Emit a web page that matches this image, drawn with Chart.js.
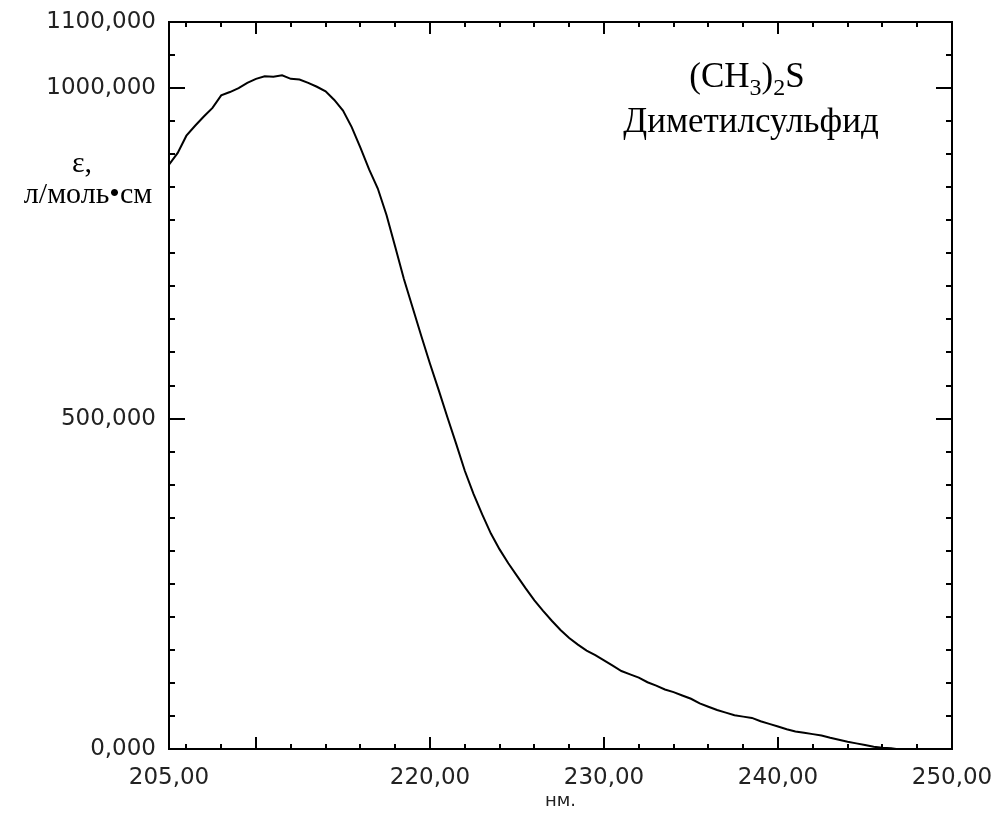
<!DOCTYPE html>
<html>
<head>
<meta charset="utf-8">
<script src="https://cdn.jsdelivr.net/npm/chart.js@4/dist/chart.umd.min.js"></script>
<style>
html,body{margin:0;padding:0;background:#fff;}
canvas{display:block;}
</style>
</head>
<body>
<canvas id="c" width="998" height="817"></canvas>
<script>
// ---- data ----
const wavelengths = [
  205.0,205.5,206.0,206.5,207.0,207.5,208.0,208.5,209.0,209.5,
  210.0,210.5,211.0,211.5,212.0,212.5,213.0,213.5,214.0,214.5,
  215.0,215.5,216.0,216.5,217.0,217.5,218.0,218.5,219.0,219.5,
  220.0,220.5,221.0,221.5,222.0,222.5,223.0,223.5,224.0,224.5,
  225.0,225.5,226.0,226.5,227.0,227.5,228.0,228.5,229.0,229.5,
  230.0,230.5,231.0,231.5,232.0,232.5,233.0,233.5,234.0,234.5,
  235.0,235.5,236.0,236.5,237.0,237.5,238.0,238.5,239.0,239.5,
  240.0,240.5,241.0,241.5,242.0,242.5,243.0,243.5,244.0,244.5,
  245.0,245.5,246.0,246.5,246.8
];
const epsilon = [
  884000,902000,928000,943000,957000,970000,989000,994000,1000000,1008000,
  1014000,1018000,1017000,1019500,1014000,1013000,1008000,1002000,995000,982000,
  966000,941000,910000,877000,848000,808000,760000,711000,668000,625000,
  583000,543000,502000,462000,421000,386000,355000,326000,302000,281000,
  262000,243000,225000,209000,194000,180000,168000,158000,149000,142000,
  134000,126000,118000,113000,108000,101000,96000,90000,86000,81000,
  76000,69000,64000,59000,55000,51000,49000,47000,42000,38000,
  34000,30000,26500,24500,22500,20500,17000,14000,11000,8500,
  6000,3500,2000,1000,0
];
const xTickValues = [205, 220, 230, 240, 250];
const xTickLabels = ['205,00', '220,00', '230,00', '240,00', '250,00'];
const xMajorMarks = [210, 220, 230, 240];
const xMinorMarks = [206,208,212,214,216,218,222,224,226,228,232,234,236,238,242,244,246,248];
const yTickValues = [0, 500000, 1000000, 1100000];
const yTickLabels = ['0,000', '500,000', '1000,000', '1100,000'];
const yMajorMarks = [500000, 1000000];
const yMinorMarks = [50000,100000,150000,200000,250000,300000,350000,400000,450000,
                     550000,600000,650000,700000,750000,800000,850000,900000,950000,1050000];
const xTitle = 'нм.';
const yTitleLines = ['ε,', 'л/моль•см'];
const formulaParts = [['(CH', false], ['3', true], [')', false], ['2', true], ['S', false]];
const compoundName = 'Диметилсульфид';

const points = wavelengths.map((w, i) => ({x: w, y: epsilon[i]}));

const framePlugin = {
  id: 'frame',
  afterDatasetsDraw(chart) {
    const {ctx, chartArea: a, scales: {x, y}} = chart;
    ctx.save();
    ctx.strokeStyle = '#000';
    ctx.lineWidth = 2;
    ctx.strokeRect(a.left, a.top, a.right - a.left, a.bottom - a.top);
    ctx.beginPath();
    const xMark = (v, len) => {
      const px = Math.round(x.getPixelForValue(v));
      ctx.moveTo(px, a.bottom); ctx.lineTo(px, a.bottom - len);
      ctx.moveTo(px, a.top); ctx.lineTo(px, a.top + len);
    };
    const yMark = (v, len) => {
      const py = Math.round(y.getPixelForValue(v));
      ctx.moveTo(a.left, py); ctx.lineTo(a.left + len, py);
      ctx.moveTo(a.right, py); ctx.lineTo(a.right - len, py);
    };
    xMajorMarks.forEach(v => xMark(v, 12));
    xMinorMarks.forEach(v => xMark(v, 5));
    yMajorMarks.forEach(v => yMark(v, 16));
    yMinorMarks.forEach(v => yMark(v, 6));
    ctx.stroke();
    ctx.restore();
  },
  afterDraw(chart) {
    const {ctx} = chart;
    ctx.save();
    ctx.fillStyle = '#000';
    ctx.textBaseline = 'alphabetic';
    // y axis title (two lines, upper left)
    ctx.font = '30px "Liberation Serif", "Times New Roman", serif';
    ctx.textAlign = 'center';
    ctx.fillText(yTitleLines[0], 82, 172);
    ctx.fillText(yTitleLines[1], 88, 203);
    // formula with subscripts
    const big = '35px "Liberation Serif", "Times New Roman", serif';
    const small = '24px "Liberation Serif", "Times New Roman", serif';
    let total = 0;
    formulaParts.forEach(([t, sub]) => { ctx.font = sub ? small : big; total += ctx.measureText(t).width; });
    let cx = 747 - total / 2;
    ctx.textAlign = 'left';
    formulaParts.forEach(([t, sub]) => {
      ctx.font = sub ? small : big;
      ctx.fillText(t, cx, sub ? 95 : 87);
      cx += ctx.measureText(t).width;
    });
    ctx.font = big;
    ctx.textAlign = 'center';
    ctx.fillText(compoundName, 751, 132);
    ctx.restore();
  }
};

new Chart(document.getElementById('c'), {
  type: 'line',
  data: {
    datasets: [{
      data: points,
      borderColor: '#000',
      borderWidth: 2,
      pointRadius: 0,
      tension: 0,
      fill: false
    }]
  },
  options: {
    responsive: false,
    animation: false,
    devicePixelRatio: 1,
    layout: {padding: {left: 0, right: 46, top: 22, bottom: 0}},
    plugins: {legend: {display: false}, tooltip: {enabled: false}},
    scales: {
      x: {
        type: 'linear',
        min: 205, max: 250,
        grid: {display: false, drawTicks: false},
        border: {display: false},
        afterFit: s => { s.height = 68; s.paddingLeft = 0; s.paddingRight = 0; },
        afterBuildTicks: s => { s.ticks = xTickValues.map(v => ({value: v})); },
        ticks: {
          autoSkip: false, maxRotation: 0, padding: 15,
          color: '#222',
          font: {family: '"DejaVu Sans", sans-serif', size: 23},
          callback: (v) => xTickLabels[xTickValues.indexOf(v)]
        },
        title: {
          display: true, text: xTitle, color: '#222',
          font: {family: '"DejaVu Sans", sans-serif', size: 18},
          padding: {top: 0, bottom: 5}
        }
      },
      y: {
        type: 'linear',
        min: 0, max: 1100000,
        grid: {display: false, drawTicks: false},
        border: {display: false},
        afterFit: s => { s.width = 169; s.paddingTop = 0; s.paddingBottom = 0; },
        afterBuildTicks: s => { s.ticks = yTickValues.map(v => ({value: v})); },
        ticks: {
          autoSkip: false, padding: 13,
          color: '#222',
          font: {family: '"DejaVu Sans", sans-serif', size: 23},
          callback: (v) => yTickLabels[yTickValues.indexOf(v)]
        }
      }
    }
  },
  plugins: [framePlugin]
});
</script>
</body>
</html>
